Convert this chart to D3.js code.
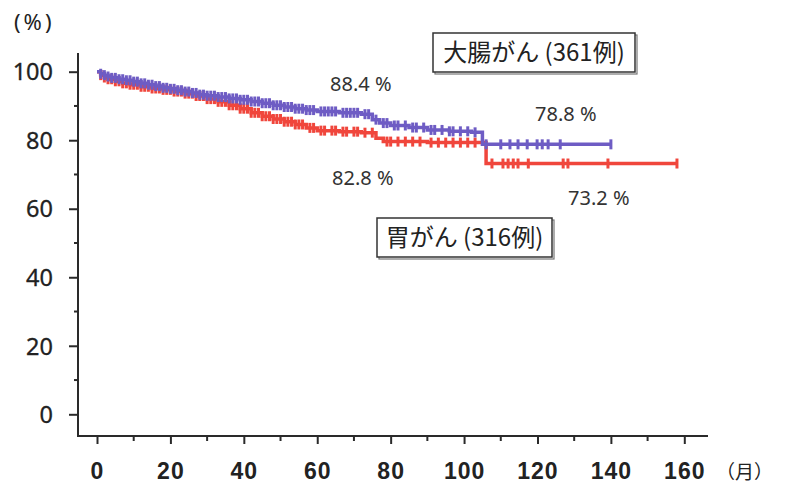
<!DOCTYPE html>
<html><head><meta charset="utf-8">
<script src="https://cdn.jsdelivr.net/npm/d3@7"></script>
<style>
html,body{margin:0;padding:0;background:#fff;}
svg{display:block;}
</style></head>
<body>
<svg id="c" width="791" height="486"></svg>
<script>
// ---- data ----
const xTicks = [0,20,40,60,80,100,120,140,160];
const xMinor = [10,30,50,70,90,110,130,150];
const yTicks = [0,20,40,60,80,100];
const yMinor = [10,30,50,70,90];

const colonName = "大腸がん (361例)";
const colonTimes = [0,1,2,3,4,6,8,10,12,14,16,18,20,22,24,26,28,30,33,36,39,42,45,48,51,54,57,60,66,72,75,77,80,85,90,96,102,105,140];
const colonSurv  = [100,99.4,99.0,98.6,98.2,97.8,97.5,97.1,96.6,96.2,95.8,95.3,95.0,94.6,94.2,93.8,93.3,93.0,92.6,92.2,91.8,91.3,90.8,90.2,89.7,89.2,88.8,88.4,88.0,87.6,86.0,85.0,84.3,83.7,83.0,82.6,82.3,78.8,78.8];
const colonCensor = [1,2,3,4,5,6,7,8,9,10,11,12,13,14,15,16,17,18,19,20,21,22,23,24,25,26,27,28,29,30,31,32,33,34,35,36,37,38,39,40,41,42,43,44,45,46,47,48,49,50,51,52,53,54,55,56,57,58,59,61,62,63,64,65,67,68,69,70,71,73,74,76,78,79,81,82,84,86,87,89,91,92,94,96,97,99,101,103,106,110,112.5,114.7,117.2,119.9,121.3,122.9,126.2,140];

const stomachName = "胃がん (316例)";
const stomachTimes = [0,1,2,3,5,7,9,12,15,18,21,24,27,30,33,36,39,42,45,48,51,54,57,60,66,72,76,78,90,106,158];
const stomachSurv  = [100,99.0,98.3,97.8,97.2,96.6,96.2,95.6,95.1,94.7,94.2,93.6,92.9,92.0,91.2,90.2,89.2,88.0,87.0,86.2,85.4,84.6,83.6,82.8,82.5,82.2,80.6,79.6,79.3,73.2,73.2];
const stomachCensor = [1,2,3,4,5,6,7,8,9,10,11,12,13,14,15,16,17,18,19,20,21,22,23,24,25,26,27,28,29,30,31,32,33,34,35,36,37,38,39,40,41,42,43,44,45,46,47,48,49,50,51,52,53,54,55,56,58,59,61,62,64,65,67,68,70,71,73,75,79,80,82,84,86,88,91,93,95,97,99,101,103,107.6,110.6,112,113.4,114.7,117.5,127,128.3,139.2,158];

const rateLabels = ["88.4 %","82.8 %","78.8 %","73.2 %"];

// ---- layout ----
const svg = d3.select("#c");
const x = d3.scaleLinear().domain([0,160]).range([97,684.3]);
const y = d3.scaleLinear().domain([0,100]).range([414.3,71.7]);
const axisColor = "#2a2a2a";
const colonColor = "#6e5cc4";
const stomachColor = "#f0463c";

// axis lines
svg.append("line").attr("x1",78).attr("x2",78).attr("y1",53).attr("y2",436.5)
  .attr("stroke",axisColor).attr("stroke-width",2);
svg.append("line").attr("x1",77).attr("x2",708).attr("y1",436).attr("y2",436)
  .attr("stroke",axisColor).attr("stroke-width",2);

// y ticks
const yg = svg.append("g").attr("transform","translate(78,0)")
  .call(d3.axisLeft(y).tickValues(yTicks).tickSize(9).tickPadding(16).tickFormat(d3.format("d")));
yg.select(".domain").remove();
yg.selectAll("line").attr("stroke",axisColor).attr("stroke-width",2);
yg.selectAll("text").attr("font-family","'Noto Sans', sans-serif").attr("font-size",23.5)
  .attr("fill","#222").attr("dy","0.35em").attr("stroke","#222").attr("stroke-width",0.3);
svg.append("g").selectAll("line").data(yMinor).join("line")
  .attr("x1",74).attr("x2",78).attr("y1",d=>y(d)).attr("y2",d=>y(d))
  .attr("stroke",axisColor).attr("stroke-width",2);

// x ticks
const xg = svg.append("g").attr("transform","translate(0,436)")
  .call(d3.axisBottom(x).tickValues(xTicks).tickSize(8).tickPadding(19).tickFormat(d3.format("d")));
xg.select(".domain").remove();
xg.selectAll("line").attr("stroke",axisColor).attr("stroke-width",2);
xg.selectAll("text").attr("font-family","'Liberation Sans', Arial, sans-serif").attr("font-size",23)
  .attr("font-weight","bold").attr("fill","#222").attr("letter-spacing","1px");
svg.append("g").selectAll("line").data(xMinor).join("line")
  .attr("x1",d=>x(d)).attr("x2",d=>x(d)).attr("y1",436).attr("y2",441)
  .attr("stroke",axisColor).attr("stroke-width",2);

// unit labels
svg.append("text").attr("x",14).attr("y",30).text("(%)")
  .attr("font-family","'Noto Sans', sans-serif").attr("font-size",22).attr("fill","#222").attr("letter-spacing","3px");
svg.append("text").attr("x",716).attr("y",479).text("（月）")
  .attr("font-family","'Noto Sans CJK JP', sans-serif").attr("font-size",19).attr("fill","#222");

// curves
function drawSeries(times, surv, censor, color){
  const pts = times.map((t,i)=>[t,surv[i]]);
  const line = d3.line().x(d=>x(d[0])).y(d=>y(d[1])).curve(d3.curveStepAfter);
  svg.append("path").datum(pts).attr("d",line).attr("fill","none")
    .attr("stroke",color).attr("stroke-width",3.5);
  const sAt = t => { let v = surv[0]; for(let i=0;i<times.length;i++){ if(times[i]<=t) v = surv[i]; } return v; };
  svg.append("g").selectAll("line").data(censor).join("line")
    .attr("x1",d=>x(d)).attr("x2",d=>x(d))
    .attr("y1",d=>y(sAt(d))-5).attr("y2",d=>y(sAt(d))+5)
    .attr("stroke",color).attr("stroke-width",3);
}
drawSeries(stomachTimes, stomachSurv, stomachCensor, stomachColor);
drawSeries(colonTimes, colonSurv, colonCensor, colonColor);

// rate annotations
const annFont = "'Noto Sans', sans-serif";
const annPos = [[330,91],[332,185],[535,121],[568,205]];
svg.append("g").selectAll("text").data(rateLabels).join("text")
  .attr("x",(d,i)=>annPos[i][0]).attr("y",(d,i)=>annPos[i][1]).text(d=>d)
  .attr("font-family",annFont).attr("font-size",20).attr("fill","#333");

// legend boxes
function box(x0,y0,w,h,label){
  svg.append("rect").attr("x",x0+2).attr("y",y0+2).attr("width",w).attr("height",h)
    .attr("fill","none").attr("stroke","#777").attr("stroke-width",1.2);
  svg.append("rect").attr("x",x0).attr("y",y0).attr("width",w).attr("height",h)
    .attr("fill","#fff").attr("stroke","#333").attr("stroke-width",1.5);
  svg.append("text").attr("x",x0+w/2).attr("y",y0+h/2).attr("dy","0.36em")
    .attr("text-anchor","middle").text(label)
    .attr("font-family","'Noto Sans CJK JP', sans-serif").attr("font-size",24).attr("fill","#222");
}
box(433,33,202,39,colonName);
box(377,218,175,39,stomachName);
</script>
</body></html>
